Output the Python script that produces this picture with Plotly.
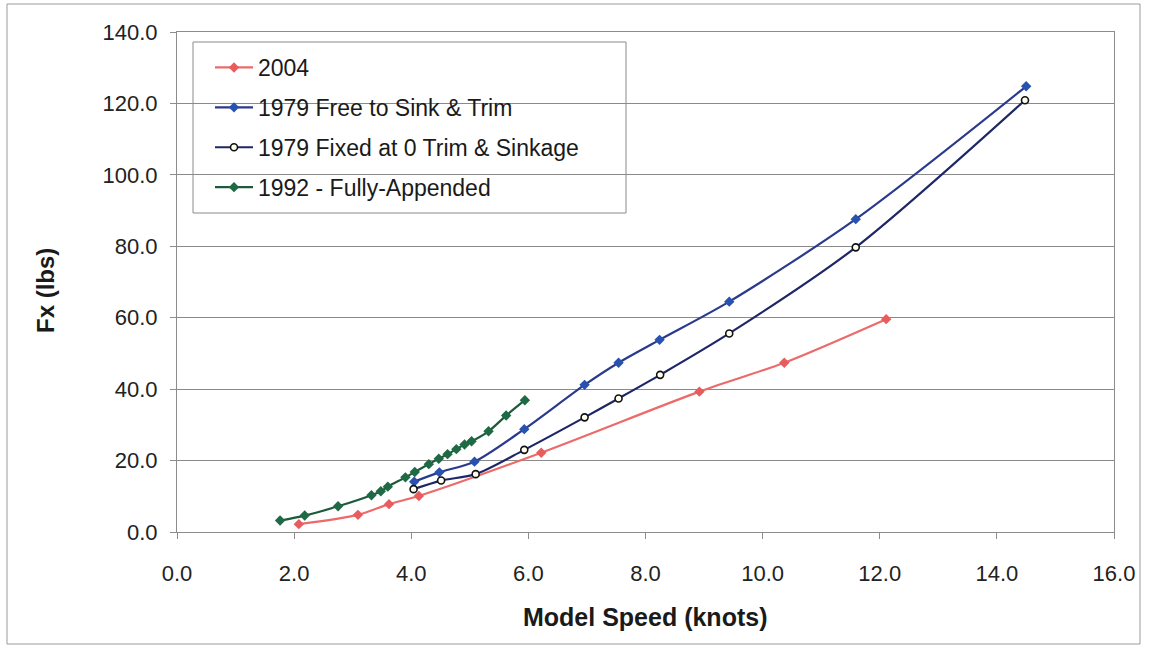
import plotly.graph_objects as go

# Resistance (Fx) versus model speed for the four test series
red_name = "2004"
red_speed = [2.08, 3.09, 3.62, 4.13, 6.22, 8.92, 10.37, 12.11]
red_fx = [2.2, 4.8, 7.8, 10.1, 22.2, 39.3, 47.4, 59.6]

free_name = "1979 Free to Sink & Trim"
free_speed = [4.05, 4.48, 5.08, 5.93, 6.96, 7.54, 8.24, 9.43, 11.59, 14.50]
free_fx = [14.1, 16.7, 19.7, 28.8, 41.2, 47.4, 53.8, 64.5, 87.6, 124.8]

fixed_name = "1979 Fixed at 0 Trim & Sinkage"
fixed_speed = [4.04, 4.51, 5.10, 5.93, 6.96, 7.54, 8.25, 9.43, 11.59, 14.48]
fixed_fx = [12.0, 14.4, 16.2, 23.0, 32.1, 37.4, 44.0, 55.6, 79.7, 120.9]

app_name = "1992 - Fully-Appended"
app_speed = [1.76, 2.18, 2.75, 3.32, 3.48, 3.60, 3.90, 4.06, 4.30, 4.47,
             4.62, 4.77, 4.91, 5.03, 5.32, 5.62, 5.94]
app_fx = [3.2, 4.6, 7.2, 10.3, 11.4, 12.7, 15.3, 16.8, 19.0, 20.5,
          21.8, 23.2, 24.5, 25.4, 28.2, 32.6, 36.9]

x_ticks = [0, 2, 4, 6, 8, 10, 12, 14, 16]
y_ticks = [0, 20, 40, 60, 80, 100, 120, 140]

W, H = 1151, 649
ML, MR, MT, MB = 177, 37, 32, 117
PW, PH = W - ML - MR, H - MT - MB


def px(x):
    return (x - ML) / PW


def py(y):
    return (H - MB - y) / PH


FONT = "Liberation Sans, Arial, sans-serif"

fig = go.Figure()

series = [
    (red_name, red_speed, red_fx, "#EC6A6A", dict(symbol="diamond", size=8, color="#E85C5E")),
    (free_name, free_speed, free_fx, "#2A3A8C", dict(symbol="diamond", size=8, color="#2752B0")),
    (fixed_name, fixed_speed, fixed_fx, "#1E2766",
     dict(symbol="circle", size=7, color="#FFFFF0", line=dict(color="#111111", width=1.6))),
    (app_name, app_speed, app_fx, "#1D5A3C", dict(symbol="diamond", size=8, color="#1E6A44")),
]

for i, (name, xs, ys, lc, mk) in enumerate(series):
    fig.add_trace(go.Scatter(
        x=xs, y=ys, name=name, mode="lines+markers",
        line=dict(color=lc, width=2.2, shape="spline", smoothing=0.8),
        marker=mk, legendgroup=f"g{i}",
    ))

axis_common = dict(
    showline=True, linecolor="#8c8c8c", linewidth=1, mirror=True,
    ticks="outside", ticklen=6, tickcolor="#8c8c8c",
    zeroline=False,
    tickfont=dict(family=FONT, size=22, color="#222222"),
)

fig.update_xaxes(range=[0, 16], tickvals=x_ticks,
                 ticktext=[f"{v:.1f}" for v in x_ticks],
                 showgrid=False, ticklabelstandoff=16, **axis_common)
fig.update_yaxes(range=[0, 140], tickvals=y_ticks,
                 ticktext=[f"{v:.1f}" for v in y_ticks],
                 showgrid=True, gridcolor="#8a8a8a", gridwidth=1,
                 ticklabelstandoff=8, **axis_common)

# outer chart frame and legend frame
fig.add_shape(type="rect", xref="paper", yref="paper",
              x0=px(7), x1=px(1140), y0=py(644), y1=py(4),
              line=dict(color="#9a9a9a", width=1), layer="below")
fig.add_shape(type="rect", xref="paper", yref="paper",
              x0=px(193), x1=px(626), y0=py(213), y1=py(42),
              line=dict(color="#8a8a8a", width=1), fillcolor="white", layer="below")

fig.add_annotation(text="<b>Fx (lbs)</b>", xref="paper", yref="paper",
                   x=px(45), y=py(291), xanchor="center", yanchor="middle",
                   textangle=-90, showarrow=False,
                   font=dict(family=FONT, size=24, color="#1a1a1a"))
fig.add_annotation(text="<b>Model Speed (knots)</b>", xref="paper", yref="paper",
                   x=px(645), y=py(617), xanchor="center", yanchor="middle",
                   showarrow=False,
                   font=dict(family=FONT, size=25, color="#1a1a1a"))

fig.update_layout(
    width=W, height=H, autosize=False,
    margin=dict(l=ML, r=MR, t=MT, b=MB),
    paper_bgcolor="white", plot_bgcolor="white",
    showlegend=True,
    legend=dict(x=px(210), y=py(46), xanchor="left", yanchor="top",
                bgcolor="rgba(0,0,0,0)", borderwidth=0,
                font=dict(family=FONT, size=23, color="#1a1a1a"),
                tracegroupgap=7, traceorder="grouped", itemwidth=38),
)

fig.write_html("out.html")
